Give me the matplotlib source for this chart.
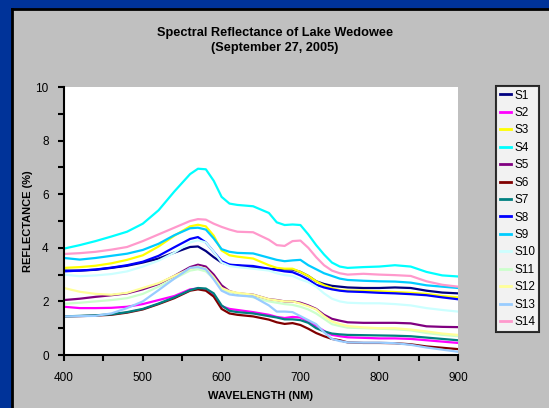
import matplotlib
matplotlib.use("Agg")
import matplotlib.pyplot as plt
from matplotlib.patches import Rectangle
from matplotlib.ticker import MultipleLocator

plt.rcParams['font.family'] = ['Liberation Sans', 'DejaVu Sans']

wavelength = [400, 420, 440, 460, 480, 500, 520, 540, 560, 570, 580, 590, 600, 610, 620, 640,
              660, 670, 680, 690, 700, 710, 720, 730, 740, 750, 760, 780, 800, 820, 840, 860, 880, 900]

s1 = [3.15, 3.15, 3.18, 3.25, 3.33, 3.45, 3.60, 3.82, 4.03, 4.05, 3.88, 3.65, 3.45, 3.36, 3.34, 3.26,
      3.21, 3.20, 3.19, 3.19, 3.10, 2.95, 2.75, 2.65, 2.58, 2.55, 2.52, 2.50, 2.50, 2.52, 2.50, 2.40, 2.33, 2.30]
s2 = [1.80, 1.75, 1.75, 1.76, 1.80, 1.90, 2.05, 2.20, 2.45, 2.48, 2.45, 2.20, 1.82, 1.72, 1.68, 1.60,
      1.50, 1.42, 1.38, 1.42, 1.40, 1.25, 1.08, 0.90, 0.75, 0.70, 0.66, 0.64, 0.62, 0.62, 0.60, 0.55, 0.50, 0.45]
s3 = [3.25, 3.28, 3.33, 3.42, 3.55, 3.72, 4.05, 4.45, 4.80, 4.86, 4.80, 4.45, 3.90, 3.72, 3.67, 3.60,
      3.35, 3.25, 3.22, 3.22, 3.10, 2.95, 2.75, 2.60, 2.50, 2.42, 2.40, 2.40, 2.38, 2.35, 2.32, 2.28, 2.20, 2.15]
s4 = [3.97, 4.10, 4.25, 4.42, 4.60, 4.90, 5.40, 6.10, 6.75, 6.95, 6.93, 6.50, 5.90, 5.65, 5.60, 5.55,
      5.30, 4.95, 4.85, 4.87, 4.85, 4.50, 4.10, 3.75, 3.45, 3.30, 3.25, 3.28, 3.30, 3.35, 3.30, 3.10, 2.97, 2.93]
s5 = [2.05, 2.10, 2.17, 2.23, 2.30, 2.45, 2.65, 2.95, 3.28, 3.37, 3.30, 3.00, 2.60, 2.38, 2.30, 2.25,
      2.08, 2.05, 2.00, 2.00, 1.95, 1.85, 1.72, 1.50, 1.35, 1.28, 1.22, 1.20, 1.20, 1.20, 1.18, 1.07, 1.05, 1.04]
s6 = [1.44, 1.45, 1.47, 1.50, 1.58, 1.70, 1.90, 2.12, 2.40, 2.45, 2.40, 2.18, 1.72, 1.55, 1.50, 1.44,
      1.32, 1.22, 1.16, 1.19, 1.12, 0.98, 0.82, 0.70, 0.60, 0.55, 0.47, 0.45, 0.45, 0.44, 0.40, 0.32, 0.27, 0.22]
s7 = [1.44, 1.46, 1.48, 1.52, 1.60, 1.72, 1.92, 2.15, 2.42, 2.50, 2.48, 2.30, 1.85, 1.65, 1.60, 1.55,
      1.45, 1.40, 1.33, 1.33, 1.30, 1.20, 1.00, 0.88, 0.80, 0.77, 0.75, 0.74, 0.73, 0.72, 0.70, 0.65, 0.60, 0.55]
s8 = [3.12, 3.15, 3.19, 3.26, 3.35, 3.48, 3.70, 4.02, 4.33, 4.40, 4.20, 3.85, 3.50, 3.37, 3.35, 3.32,
      3.22, 3.17, 3.12, 3.09, 2.97, 2.82, 2.62, 2.52, 2.45, 2.40, 2.37, 2.35, 2.32, 2.30, 2.27, 2.23, 2.15, 2.08]
s9 = [3.62, 3.56, 3.62, 3.70, 3.78, 3.92, 4.15, 4.47, 4.73, 4.75, 4.68, 4.35, 3.95, 3.85, 3.81, 3.79,
      3.63, 3.55, 3.50, 3.53, 3.55, 3.35, 3.20, 3.05, 2.95, 2.85, 2.80, 2.77, 2.75, 2.74, 2.70, 2.60, 2.55, 2.50]
s10 = [3.00, 2.94, 2.97, 3.02, 3.12, 3.30, 3.52, 3.82, 4.20, 4.28, 4.20, 3.85, 3.45, 3.32, 3.28, 3.22,
       3.15, 3.05, 2.98, 2.95, 2.82, 2.72, 2.55, 2.30, 2.10, 2.00, 1.95, 1.93, 1.93, 1.90, 1.85, 1.75, 1.68, 1.62]
s11 = [1.91, 1.95, 2.00, 2.05, 2.12, 2.28, 2.55, 2.85, 3.15, 3.20, 3.12, 2.85, 2.45, 2.35, 2.30, 2.15,
       2.00, 1.95, 1.90, 1.87, 1.80, 1.70, 1.55, 1.35, 1.15, 1.08, 1.02, 1.00, 0.98, 0.96, 0.92, 0.82, 0.75, 0.70]
s12 = [2.50, 2.36, 2.28, 2.25, 2.32, 2.50, 2.68, 2.95, 3.22, 3.30, 3.22, 2.90, 2.50, 2.38, 2.32, 2.25,
       2.08, 2.04, 2.00, 2.00, 1.92, 1.82, 1.70, 1.45, 1.25, 1.15, 1.08, 1.03, 1.00, 1.00, 0.95, 0.88, 0.80, 0.75]
s13 = [1.44, 1.45, 1.46, 1.55, 1.75, 2.00, 2.42, 2.85, 3.25, 3.28, 3.20, 2.82, 2.40, 2.26, 2.22, 2.18,
       1.85, 1.62, 1.62, 1.60, 1.45, 1.30, 1.15, 0.85, 0.60, 0.52, 0.47, 0.46, 0.46, 0.44, 0.38, 0.28, 0.20, 0.12]
s14 = [3.77, 3.80, 3.85, 3.93, 4.03, 4.25, 4.50, 4.75, 5.00, 5.07, 5.05, 4.90, 4.78, 4.68, 4.60, 4.58,
       4.30, 4.10, 4.07, 4.25, 4.27, 4.00, 3.65, 3.35, 3.15, 3.05, 3.00, 3.03, 3.00, 2.98, 2.95, 2.75, 2.62, 2.55]

series_names = ["S1", "S2", "S3", "S4", "S5", "S6", "S7", "S8", "S9", "S10", "S11", "S12", "S13", "S14"]
series_values = [s1, s2, s3, s4, s5, s6, s7, s8, s9, s10, s11, s12, s13, s14]
colors = ["#000080", "#FF00FF", "#FFFF00", "#00FFFF", "#800080", "#800000", "#008080",
          "#0000FF", "#00CCFF", "#CCFFFF", "#CCFFCC", "#FFFF99", "#99CCFF", "#FF99CC"]

W, H = 549, 408
fig = plt.figure(figsize=(W / 100, H / 100), dpi=100)
fig.patch.set_facecolor("#003399")

# gray chart panel with black top/left edge
fig.patches.append(Rectangle((12 / W, 0), 1, (H - 9) / H, transform=fig.transFigure,
                             facecolor="#C0C0C0", edgecolor="none", zorder=-5))
fig.lines.append(plt.Line2D([12 / W, 12 / W], [0, (H - 9) / H], transform=fig.transFigure,
                            color="black", lw=2, zorder=-4))
fig.lines.append(plt.Line2D([12 / W, 1], [(H - 9) / H, (H - 9) / H], transform=fig.transFigure,
                            color="black", lw=2, zorder=-4))

ax = fig.add_axes([64 / W, (H - 355) / H, (458 - 64) / W, (355 - 87) / H])
ax.set_zorder(1)
ax.set_facecolor("white")
for name, vals, c in zip(series_names, series_values, colors):
    ax.plot(wavelength, vals, color=c, lw=1.6, label=name)

ax.set_xlim(400, 900)
ax.set_ylim(0, 10)
ax.xaxis.set_major_locator(MultipleLocator(100))
ax.xaxis.set_minor_locator(MultipleLocator(50))
ax.yaxis.set_major_locator(MultipleLocator(2))
ax.yaxis.set_minor_locator(MultipleLocator(1))
for s in ["top", "right"]:
    ax.spines[s].set_visible(False)
for s in ["left", "bottom"]:
    ax.spines[s].set_linewidth(1.5)
ax.tick_params(which="both", direction="out", length=4, width=1.5, labelsize=8.5)
ax.tick_params(axis="x", which="major", pad=8)
ax.tick_params(axis="y", which="major", pad=7)

ax.set_xlabel("WAVELENGTH (NM)", fontsize=8, fontweight="bold", labelpad=5)
ax.set_ylabel("REFLECTANCE (%)", fontsize=8, fontweight="bold")
ax.yaxis.set_label_coords((33 - 64) / (458 - 64), 0.5)

fig.text(275 / W, 1 - 33 / H, "Spectral Reflectance of Lake Wedowee", ha="center", va="center",
         fontsize=9.2, fontweight="bold")
fig.text(275 / W, 1 - 48 / H, "(September 27, 2005)", ha="center", va="center",
         fontsize=9.2, fontweight="bold")

leg = ax.legend(loc="upper left", bbox_to_anchor=(496 / W, 1 - 86 / H), bbox_transform=fig.transFigure,
                fontsize=8.5, frameon=True, fancybox=False, handlelength=1.0, handletextpad=0.25,
                labelspacing=0.46, borderpad=0.3, borderaxespad=0)
leg.get_frame().set_edgecolor("black")
leg.get_frame().set_linewidth(1.5)
for line in leg.get_lines():
    line.set_linewidth(2)

fig.savefig("out.png", dpi=100, facecolor=fig.get_facecolor())
